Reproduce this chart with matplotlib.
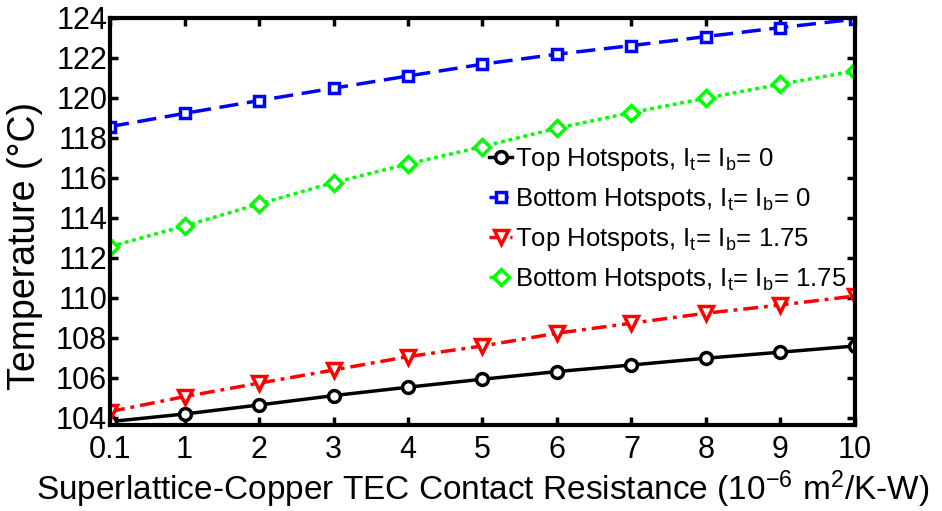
import numpy as np
import matplotlib
matplotlib.use("Agg")
import matplotlib.pyplot as plt

plt.rcParams['font.family'] = ['Liberation Sans', 'DejaVu Sans']
plt.rcParams['mathtext.fontset'] = 'custom'
plt.rcParams['mathtext.rm'] = 'Liberation Sans'
plt.rcParams['mathtext.it'] = 'Liberation Sans:italic'
plt.rcParams['mathtext.bf'] = 'Liberation Sans:bold'

# contact resistance values (plotted at equal spacing)
x_labels = ['0.1', '1', '2', '3', '4', '5', '6', '7', '8', '9', '10']

top_0 = [103.82, 104.20, 104.65, 105.12, 105.54, 105.94, 106.32, 106.65, 106.99, 107.29, 107.60]
bottom_0 = [118.57, 119.23, 119.87, 120.49, 121.10, 121.69, 122.19, 122.62, 123.07, 123.52, 123.94]
top_175 = [104.32, 105.07, 105.74, 106.40, 107.07, 107.60, 108.24, 108.74, 109.24, 109.65, 110.10]
bottom_175 = [112.57, 113.60, 114.70, 115.77, 116.70, 117.57, 118.49, 119.27, 119.99, 120.69, 121.35]

labels = [r'Top Hotspots, I$_{\rm t}$= I$_{\rm b}$= 0',
          r'Bottom Hotspots, I$_{\rm t}$= I$_{\rm b}$= 0',
          r'Top Hotspots, I$_{\rm t}$= I$_{\rm b}$= 1.75',
          r'Bottom Hotspots, I$_{\rm t}$= I$_{\rm b}$= 1.75']

x = np.arange(len(x_labels))

fig = plt.figure(figsize=(9.42, 5.11), dpi=100)
ax = fig.add_axes([0.1168, 0.1683, 0.7908, 0.7965])

lw = 2.5
mew = 2.5
ax.plot(x, top_0, '-', color='black', lw=lw, marker='o', ms=8.5, mew=mew, mfc='white', label=labels[0])
ax.plot(x, bottom_0, '--', color='#0000ff', lw=lw, marker='s', ms=7.5, mew=mew, mfc='white', label=labels[1],
        dashes=(5.5, 2.5))
ax.plot(x, top_175, '-.', color='#ff0000', lw=lw, marker='v', ms=10, mew=mew, mfc='white', label=labels[2],
        dashes=(4.3, 1.7, 1.1, 1.7))
ax.plot(x, bottom_175, ':', color='#00ff00', lw=lw, marker='D', ms=8.5, mew=mew, mfc='white', label=labels[3],
        dashes=(1.1, 1.1))

ax.set_xlim(0, 10)
ax.set_ylim(103.65, 124)
ax.set_xticks(x)
ax.set_xticklabels(x_labels)
ax.set_yticks(np.arange(104, 125, 2))

ax.tick_params(direction='in', length=6, width=2.5, labelsize=22, top=True, right=True, pad=2)
ax.tick_params(axis='x', pad=7)
for s in ax.spines.values():
    s.set_linewidth(3)

ax.set_xlabel(r'Superlattice-Copper TEC Contact Resistance (10$^{-6}$ m$^2$/K-W)', fontsize=24, labelpad=3)
ax.set_ylabel('Temperature (°C)', fontsize=27)
ax.yaxis.set_label_coords(-0.09, 0.44)

ax.legend(loc='upper left', bbox_to_anchor=(0.495, 0.71), frameon=False, fontsize=18.5,
          handlelength=0.9, handletextpad=0.1, labelspacing=0.5, borderaxespad=0)

fig.savefig('out.png', dpi=100)
